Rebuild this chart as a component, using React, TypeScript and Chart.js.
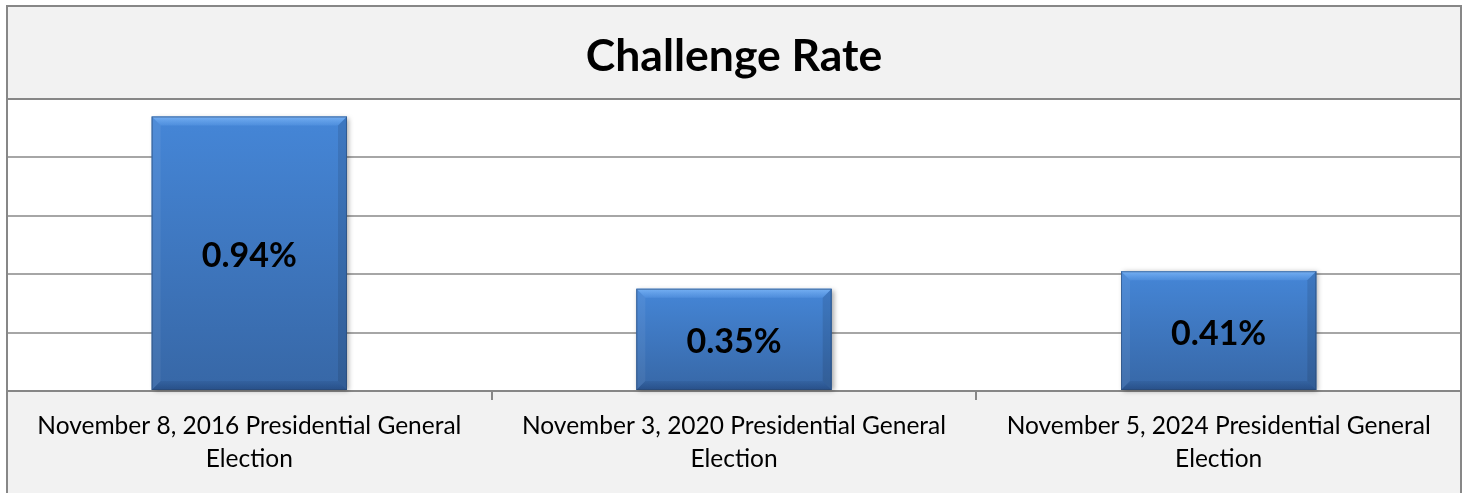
import React, { useEffect, useRef } from "react";
import { Chart, registerables } from "chart.js";

Chart.register(...registerables);

const chartTitle = "Challenge Rate";
const categories: string[][] = [
  ["November 8, 2016 Presidential General", "Election"],
  ["November 3, 2020 Presidential General", "Election"],
  ["November 5, 2024 Presidential General", "Election"],
];
const challengeRates: number[] = [0.94, 0.35, 0.41];
const yTickValues: number[] = [0, 0.2, 0.4, 0.6, 0.8, 1.0];

const FONT = "Lato, 'Open Sans', sans-serif";
const BORDER = "#878787";

const framePlugin = {
  id: "frame",
  beforeDraw(chart: any) {
    const { ctx, width, height, chartArea } = chart;
    ctx.save();
    ctx.fillStyle = "#ffffff";
    ctx.fillRect(0, 0, width, height);
    ctx.fillStyle = "#f2f2f2";
    ctx.fillRect(7, 6, width - 12, height - 6);
    ctx.fillStyle = "#ffffff";
    ctx.fillRect(chartArea.left, chartArea.top, chartArea.right - chartArea.left, chartArea.bottom - chartArea.top);
    ctx.restore();
  },
  afterDraw(chart: any) {
    const { ctx, width, height, chartArea } = chart;
    ctx.save();
    ctx.strokeStyle = BORDER;
    ctx.lineWidth = 2;
    ctx.beginPath();
    ctx.moveTo(7, height + 2);
    ctx.lineTo(7, 6);
    ctx.lineTo(width - 5, 6);
    ctx.lineTo(width - 5, height + 2);
    ctx.moveTo(7, chartArea.top);
    ctx.lineTo(width - 5, chartArea.top);
    ctx.stroke();
    ctx.restore();
  },
};

const bevelPlugin = {
  id: "bevel",
  beforeDatasetsDraw(chart: any) {
    const { ctx } = chart;
    const meta = chart.getDatasetMeta(0);
    ctx.save();
    meta.data.forEach((el: any) => {
      const p = el.getProps(["x", "y", "base", "width"], true);
      const x0 = p.x - p.width / 2;
      ctx.shadowColor = "rgba(0,0,0,0.35)";
      ctx.shadowBlur = 5;
      ctx.shadowOffsetX = 2;
      ctx.shadowOffsetY = 1;
      ctx.fillStyle = "#3a6aa8";
      ctx.fillRect(x0, p.y, p.width, p.base - p.y);
    });
    ctx.restore();
  },
  afterDatasetsDraw(chart: any) {
    const { ctx } = chart;
    const meta = chart.getDatasetMeta(0);
    const ds = chart.data.datasets[0];
    meta.data.forEach((el: any, i: number) => {
      const p = el.getProps(["x", "y", "base", "width"], true);
      const x0 = p.x - p.width / 2;
      const x1 = p.x + p.width / 2;
      const y0 = p.y;
      const y1 = p.base;
      const b = 9;
      ctx.save();
      const poly = (pts: number[][], fill: any) => {
        ctx.beginPath();
        ctx.moveTo(pts[0][0], pts[0][1]);
        for (let k = 1; k < pts.length; k++) ctx.lineTo(pts[k][0], pts[k][1]);
        ctx.closePath();
        ctx.fillStyle = fill;
        ctx.fill();
      };
      const topG = ctx.createLinearGradient(0, y0, 0, y0 + b);
      topG.addColorStop(0, "rgba(140,195,255,0.7)");
      topG.addColorStop(1, "rgba(120,180,250,0.2)");
      poly([[x0, y0], [x1, y0], [x1 - b, y0 + b], [x0 + b, y0 + b]], topG);
      poly([[x0, y0], [x0 + b, y0 + b], [x0 + b, y1 - b], [x0, y1]], "rgba(255,255,255,0.06)");
      poly([[x1, y0], [x1 - b, y0 + b], [x1 - b, y1 - b], [x1, y1]], "rgba(0,0,0,0.10)");
      const botG = ctx.createLinearGradient(0, y1 - b, 0, y1);
      botG.addColorStop(0, "rgba(0,20,60,0.08)");
      botG.addColorStop(1, "rgba(0,20,60,0.28)");
      poly([[x0, y1], [x0 + b, y1 - b], [x1 - b, y1 - b], [x1, y1]], botG);
      ctx.strokeStyle = "rgba(40,70,110,0.55)";
      ctx.lineWidth = 1;
      ctx.strokeRect(x0 + 0.5, y0 + 0.5, p.width - 1, y1 - y0 - 1);

      const v = ds.data[i] as number;
      ctx.fillStyle = "#000000";
      ctx.font = `bold 34px ${FONT}`;
      ctx.textAlign = "center";
      ctx.textBaseline = "middle";
      ctx.fillText(`${v.toFixed(2)}%`, p.x, (y0 + y1) / 2 + 3);
      ctx.restore();
    });
  },
};

export default function App() {
  const ref = useRef<HTMLCanvasElement | null>(null);
  useEffect(() => {
    document.body.style.margin = "0";
    const canvas = ref.current;
    if (!canvas) return;
    const chart = new Chart(canvas, {
      type: "bar",
      data: {
        labels: categories,
        datasets: [
          {
            data: challengeRates,
            backgroundColor: (c: any) => {
              const ch = c.chart;
              const ys = ch.scales?.y;
              if (!ys || !ch.chartArea) return "#4384d5";
              const v = challengeRates[c.dataIndex] ?? 0;
              const top = ys.getPixelForValue(v);
              const base = ys.getPixelForValue(0);
              const g = ch.ctx.createLinearGradient(0, top, 0, base);
              g.addColorStop(0, "#4586d7");
              g.addColorStop(1, "#3767a6");
              return g;
            },
            borderWidth: 0,
            categoryPercentage: 1,
            barPercentage: 0.403,
          },
        ],
      },
      options: {
        responsive: false,
        animation: false,
        devicePixelRatio: 1,
        layout: { padding: { left: 7, right: 5, top: 6, bottom: 7 } },
        plugins: {
          legend: { display: false },
          tooltip: { enabled: false },
          title: {
            display: true,
            text: chartTitle,
            color: "#000000",
            font: { family: FONT, size: 44.5, weight: "bold", lineHeight: 1.2 },
            padding: { top: 24, bottom: 15.6 },
          },
        },
        scales: {
          x: {
            offset: true,
            grid: {
              display: true,
              offset: true,
              drawOnChartArea: false,
              drawTicks: true,
              tickLength: 9,
              color: BORDER,
              lineWidth: 2,
            },
            border: { display: true, color: BORDER, width: 2 },
            ticks: {
              color: "#000000",
              font: { family: FONT, size: 24.5, lineHeight: 1.347 },
              padding: 10,
              maxRotation: 0,
              autoSkip: false,
            },
          },
          y: {
            min: 0,
            max: 1,
            afterBuildTicks: (axis: any) => {
              axis.ticks = yTickValues.map((v) => ({ value: v }));
            },
            ticks: { display: false },
            grid: { color: "#a6a6a6", lineWidth: 2, drawTicks: false },
            border: { display: false },
          },
        },
      },
      plugins: [framePlugin, bevelPlugin],
    });
    return () => chart.destroy();
  }, []);
  return (
    <div style={{ width: 1466, height: 493 }}>
      <canvas ref={ref} width={1466} height={493} style={{ display: "block" }} />
    </div>
  );
}
